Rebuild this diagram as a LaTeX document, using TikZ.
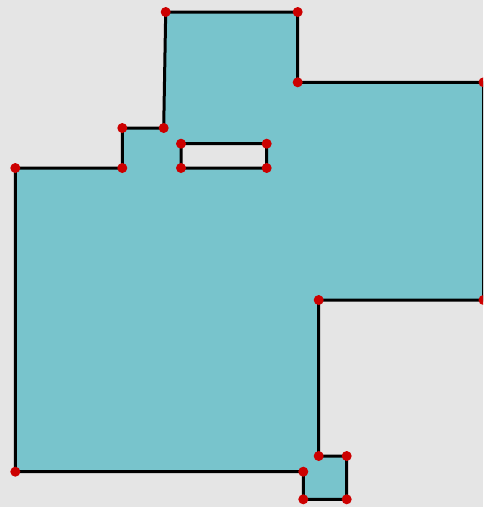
\documentclass[tikz,border=0pt]{standalone}
\usetikzlibrary{positioning}
\definecolor{floorfill}{HTML}{78C4CC}
\definecolor{bggray}{HTML}{E5E5E5}
\definecolor{vertred}{HTML}{CC0000}
\tikzset{
  wall/.style={draw=black,line width=3pt,fill=floorfill,even odd rule,line join=miter},
  corner/.style={circle,fill=vertred,inner sep=0pt,minimum size=10pt}
}
\begin{document}
\begin{tikzpicture}[x=1pt,y=-1pt]
\fill[bggray] (0,0) rectangle (483,507);
\useasboundingbox (0,0) rectangle (483,507);
\clip (0,0) rectangle (483,507);
% outer boundary
\coordinate (p1) at (165.7,12);
\coordinate (p2) at (297.7,12);
\coordinate (p3) at (297.7,82.3);
\coordinate (p4) at (483.5,82.3);
\coordinate (p5) at (483.5,300);
\coordinate (p6) at (318.7,300);
\coordinate (p7) at (318.7,456);
\coordinate (p8) at (346.7,456);
\coordinate (p9) at (346.7,499.3);
\coordinate (p10) at (303.3,499.3);
\coordinate (p11) at (303.3,471.7);
\coordinate (p12) at (15.3,471.7);
\coordinate (p13) at (15.3,168);
\coordinate (p14) at (122.3,168);
\coordinate (p15) at (122.3,128);
\coordinate (p16) at (163.7,128);
% hole
\coordinate (h1) at (181,143.7);
\coordinate (h2) at (266.7,143.7);
\coordinate (h3) at (266.7,168);
\coordinate (h4) at (181,168);
\path[wall] (p1) -- (p2) -- (p3) -- (p4) -- (p5) -- (p6) -- (p7) -- (p8)
  -- (p9) -- (p10) -- (p11) -- (p12) -- (p13) -- (p14) -- (p15) -- (p16) -- cycle
  (h1) -- (h2) -- (h3) -- (h4) -- cycle;
\foreach \v in {p1,p2,p3,p4,p5,p6,p7,p8,p9,p10,p11,p12,p13,p14,p15,p16,h1,h2,h3,h4}
  \node[corner] (c\v) at (\v) {};
\end{tikzpicture}
\end{document}
